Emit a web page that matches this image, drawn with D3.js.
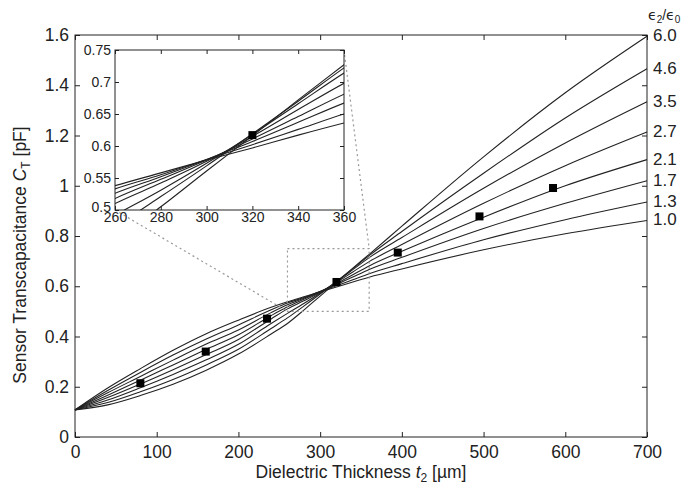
<!DOCTYPE html>
<html>
<head>
<meta charset="utf-8">
<script src="https://cdn.jsdelivr.net/npm/d3@7"></script>
<style>
  body { margin: 0; background: #fff; }
  svg { display: block; }
  svg text { font-family: "Liberation Sans", Arial, Helvetica, sans-serif; }
</style>
</head>
<body>
<svg width="699" height="485"></svg>
<script>
// dielectric thickness t2 [um] where the curves were read
const thickness = [0, 40, 80, 120, 160, 200, 240, 260, 280, 300, 320, 340, 360, 400, 500, 600, 700];

// transcapacitance [pF] for each eps2/eps0
const eps10 = [0.108, 0.195, 0.272, 0.345, 0.410, 0.465, 0.516, 0.538, 0.558, 0.578, 0.597, 0.617, 0.636, 0.669, 0.745, 0.809, 0.862];
const eps13 = [0.108, 0.185, 0.257, 0.326, 0.389, 0.446, 0.506, 0.533, 0.555, 0.579, 0.602, 0.626, 0.650, 0.690, 0.785, 0.865, 0.935];
const eps17 = [0.108, 0.176, 0.241, 0.306, 0.369, 0.426, 0.495, 0.526, 0.552, 0.579, 0.607, 0.637, 0.667, 0.715, 0.830, 0.930, 1.020];
const eps21 = [0.108, 0.166, 0.226, 0.287, 0.348, 0.407, 0.483, 0.518, 0.548, 0.578, 0.611, 0.646, 0.681, 0.739, 0.875, 1.000, 1.104];
const eps27 = [0.108, 0.157, 0.211, 0.268, 0.327, 0.388, 0.470, 0.510, 0.542, 0.576, 0.615, 0.657, 0.698, 0.766, 0.930, 1.080, 1.214];
const eps35 = [0.108, 0.147, 0.196, 0.249, 0.306, 0.369, 0.452, 0.492, 0.531, 0.573, 0.618, 0.666, 0.714, 0.794, 0.990, 1.170, 1.334];
const eps46 = [0.108, 0.137, 0.180, 0.229, 0.286, 0.349, 0.432, 0.474, 0.521, 0.569, 0.619, 0.670, 0.722, 0.818, 1.050, 1.270, 1.466];
const eps60 = [0.108, 0.128, 0.165, 0.210, 0.265, 0.330, 0.410, 0.452, 0.505, 0.561, 0.616, 0.672, 0.727, 0.839, 1.115, 1.370, 1.595];

const ratioLabels = ["1.0", "1.3", "1.7", "2.1", "2.7", "3.5", "4.6", "6.0"];

// measured points
const measT = [80, 160, 235, 320, 395, 495, 585];
const measC = [0.214, 0.340, 0.471, 0.617, 0.734, 0.878, 0.991];

const xTicks = [0, 100, 200, 300, 400, 500, 600, 700];
const yTicks = [0, 0.2, 0.4, 0.6, 0.8, 1, 1.2, 1.4, 1.6];
const zoomXTicks = [260, 280, 300, 320, 340, 360];
const zoomYTicks = [0.5, 0.55, 0.6, 0.65, 0.7, 0.75];

const series = [eps10, eps13, eps17, eps21, eps27, eps35, eps46, eps60].map((v, i) => ({
  label: ratioLabels[i],
  points: thickness.map((t, j) => [t, v[j]])
}));

const svg = d3.select("svg");
const ink = "#222";
const font = "Liberation Sans, Arial, Helvetica, sans-serif";
const fmt = d3.format("~g");

// main scales
const x = d3.scaleLinear().domain([0, 700]).range([75, 647]);
const y = d3.scaleLinear().domain([0, 1.6]).range([437, 35]);

// inset scales
const xi = d3.scaleLinear().domain([260, 360]).range([115, 344]);
const yi = d3.scaleLinear().domain([0.5, 0.75]).range([210, 50]);

function styleAxis(g, size) {
  g.attr("font-family", font).attr("font-size", size);
  g.select(".domain").remove();
  g.selectAll("line").attr("stroke", ink);
  g.selectAll("text").attr("fill", ink);
}

// main axes, ticks pointing inward on all four sides
svg.append("g").attr("transform", "translate(0,437)")
  .call(d3.axisBottom(x).tickValues(xTicks).tickSize(-5).tickPadding(9).tickFormat(fmt))
  .call(g => styleAxis(g, 17.5));
svg.append("g").attr("transform", "translate(0,35)")
  .call(d3.axisTop(x).tickValues(xTicks).tickSize(-5).tickFormat(""))
  .call(g => styleAxis(g, 17.5));
svg.append("g").attr("transform", "translate(75,0)")
  .call(d3.axisLeft(y).tickValues(yTicks).tickSize(-5).tickPadding(6).tickFormat(fmt))
  .call(g => styleAxis(g, 17.5));
svg.append("g").attr("transform", "translate(647,0)")
  .call(d3.axisRight(y).tickValues(yTicks).tickSize(-5).tickFormat(""))
  .call(g => styleAxis(g, 17.5));

svg.append("rect")
  .attr("x", x(0)).attr("y", y(1.6))
  .attr("width", x(700) - x(0)).attr("height", y(0) - y(1.6))
  .style("fill", "none").style("stroke", ink).style("stroke-width", 1);

const line = d3.line().x(d => x(d[0])).y(d => y(d[1])).curve(d3.curveMonotoneX);

svg.append("g").selectAll("path").data(series).join("path")
  .attr("d", d => line(d.points))
  .style("fill", "none").style("stroke", ink).style("stroke-width", 1.1);

svg.append("g").selectAll("rect").data(measT).join("rect")
  .attr("x", (d, i) => x(d) - 4).attr("y", (d, i) => y(measC[i]) - 4)
  .attr("width", 8).attr("height", 8).style("fill", "#000");

// curve labels on the right
svg.append("g").attr("font-family", font).selectAll("text").data(series).join("text")
  .attr("x", 653).attr("y", d => y(d.points[d.points.length - 1][1]) - 1)
  .attr("dy", "0.35em")
  .style("font-size", "17px").style("fill", ink)
  .text(d => d.label);

const head = svg.append("text").attr("x", 648).attr("y", 20)
  .style("font-size", "14px").style("fill", ink);
head.append("tspan").style("font-family", "DejaVu Sans").text("\u03F5");
head.append("tspan").attr("dy", 3).style("font-size", "10px").text("2");
head.append("tspan").attr("dy", -3).text("/");
head.append("tspan").style("font-family", "DejaVu Sans").text("\u03F5");
head.append("tspan").attr("dy", 3).style("font-size", "10px").text("0");

// axis titles
const xt = svg.append("text").attr("x", 361).attr("y", 478)
  .attr("text-anchor", "middle").style("font-size", "17.5px").style("fill", ink);
xt.append("tspan").text("Dielectric Thickness ");
xt.append("tspan").style("font-style", "italic").text("t");
xt.append("tspan").attr("dy", 4).style("font-size", "12px").text("2");
xt.append("tspan").attr("dy", -4).text(" [\u00B5m]");

const yt = svg.append("text").attr("transform", "translate(26,255) rotate(-90)")
  .attr("text-anchor", "middle").style("font-size", "17.5px").style("fill", ink);
yt.append("tspan").text("Sensor Transcapacitance ");
yt.append("tspan").style("font-style", "italic").text("C");
yt.append("tspan").attr("dy", 4).style("font-size", "12px").text("T");
yt.append("tspan").attr("dy", -4).text(" [pF]");

// zoom window and connectors
function dashed(sel) {
  return sel.style("stroke", "#999").style("stroke-width", 1.2)
    .style("stroke-dasharray", "2,3").style("fill", "none");
}
dashed(svg.append("rect")
  .attr("x", x(260)).attr("y", y(0.75))
  .attr("width", x(360) - x(260)).attr("height", y(0.5) - y(0.75)));
dashed(svg.append("line")
  .attr("x1", xi(260)).attr("y1", yi(0.5)).attr("x2", x(260)).attr("y2", y(0.5)));
dashed(svg.append("line")
  .attr("x1", xi(360)).attr("y1", yi(0.75)).attr("x2", x(360)).attr("y2", y(0.75)));

// inset
const inset = svg.append("g");
inset.append("rect")
  .attr("x", xi(260)).attr("y", yi(0.75))
  .attr("width", xi(360) - xi(260)).attr("height", yi(0.5) - yi(0.75))
  .style("fill", "#fff");

svg.append("clipPath").attr("id", "clip-inset").append("rect")
  .attr("x", xi(260)).attr("y", yi(0.75))
  .attr("width", xi(360) - xi(260)).attr("height", yi(0.5) - yi(0.75));

const lineI = d3.line().x(d => xi(d[0])).y(d => yi(d[1])).curve(d3.curveMonotoneX);
inset.append("g").attr("clip-path", "url(#clip-inset)")
  .selectAll("path").data(series).join("path")
  .attr("d", d => lineI(d.points))
  .style("fill", "none").style("stroke", ink).style("stroke-width", 1.1);

inset.append("g").attr("clip-path", "url(#clip-inset)")
  .selectAll("rect").data(measT.filter(t => t >= 260 && t <= 360)).join("rect")
  .attr("x", d => xi(d) - 4).attr("y", d => yi(measC[measT.indexOf(d)]) - 4)
  .attr("width", 8).attr("height", 8).style("fill", "#000");

inset.append("g").attr("transform", "translate(0,210)")
  .call(d3.axisBottom(xi).tickValues(zoomXTicks).tickSize(-4).tickPadding(2).tickFormat(fmt))
  .call(g => styleAxis(g, 14));
inset.append("g").attr("transform", "translate(0,50)")
  .call(d3.axisTop(xi).tickValues(zoomXTicks).tickSize(-4).tickFormat(""))
  .call(g => styleAxis(g, 14));
inset.append("g").attr("transform", "translate(115,0)")
  .call(d3.axisLeft(yi).tickValues(zoomYTicks).tickSize(-4).tickPadding(4).tickFormat(fmt))
  .call(g => styleAxis(g, 14));
inset.append("g").attr("transform", "translate(344,0)")
  .call(d3.axisRight(yi).tickValues(zoomYTicks).tickSize(-4).tickFormat(""))
  .call(g => styleAxis(g, 14));

// nudge the lowest inset y label up a little so it clears the 260 label
inset.selectAll("g text").filter(d => d === 0.5).attr("dy", "0.1em");

inset.append("rect")
  .attr("x", xi(260)).attr("y", yi(0.75))
  .attr("width", xi(360) - xi(260)).attr("height", yi(0.5) - yi(0.75))
  .style("fill", "none").style("stroke", ink).style("stroke-width", 1);
</script>
</body>
</html>
